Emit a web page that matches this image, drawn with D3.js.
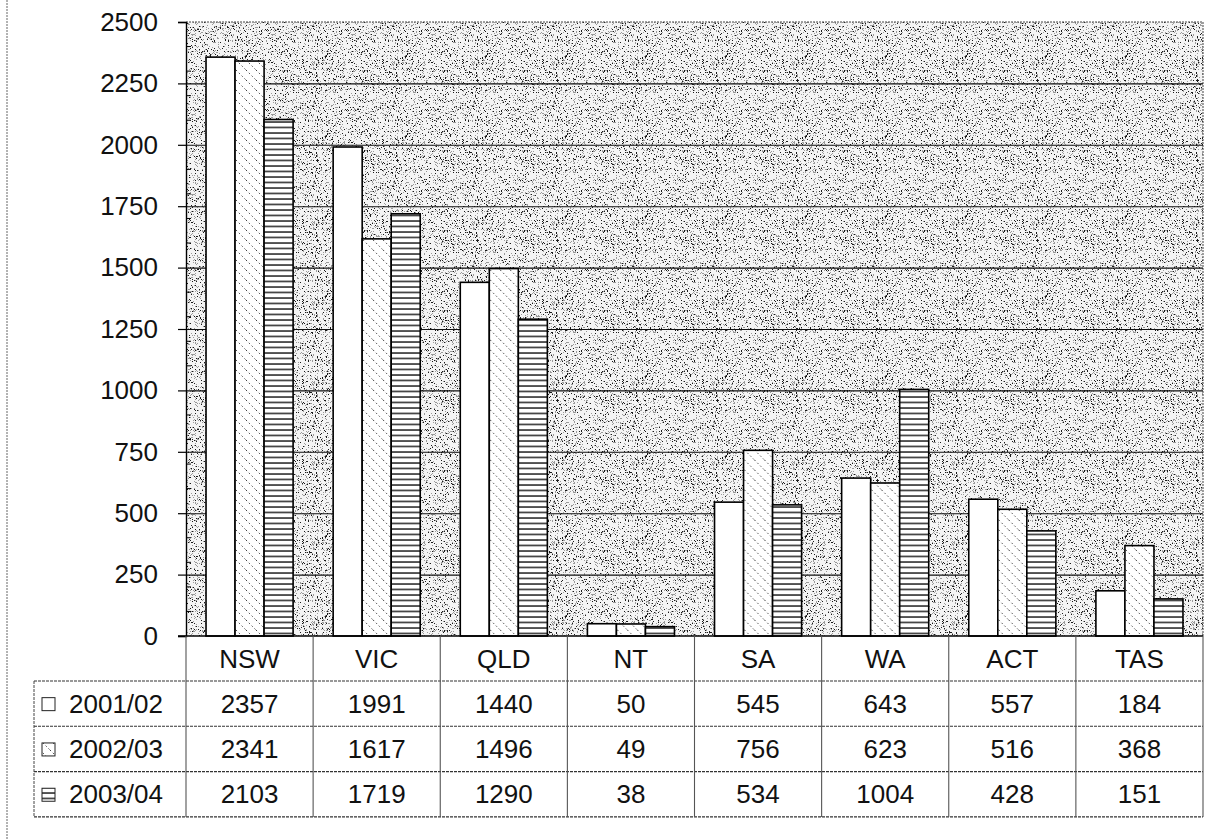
<!DOCTYPE html>
<html>
<head>
<meta charset="utf-8">
<script src="https://cdn.jsdelivr.net/npm/d3@7"></script>
<style>
  html, body { margin: 0; padding: 0; background: #fff; }
  text { font-family: "Liberation Sans", Arial, sans-serif; fill: #111; }
</style>
</head>
<body>
<svg id="chart" width="1222" height="840"></svg>
<script>
// chart data
const categories = ['NSW', 'VIC', 'QLD', 'NT', 'SA', 'WA', 'ACT', 'TAS'];
const seriesNames = ['2001/02', '2002/03', '2003/04'];
const values2001 = [2357, 1991, 1440, 50, 545, 643, 557, 184];
const values2002 = [2341, 1617, 1496, 49, 756, 623, 516, 368];
const values2003 = [2103, 1719, 1290, 38, 534, 1004, 428, 151];
const yTicks = [0, 250, 500, 750, 1000, 1250, 1500, 1750, 2000, 2250, 2500];
const yMinorTicks = [100, 200, 300, 400, 600, 700, 800, 900, 1100, 1200, 1300, 1400,
  1600, 1700, 1800, 1900, 2100, 2200, 2300, 2400];

const seriesValues = [values2001, values2002, values2003];
const patternIds = ['pat-plain', 'pat-diag', 'pat-hstripe'];

const svg = d3.select('#chart');
const plot = { left: 186, right: 1203, top: 22, bottom: 636 };
const table = { legendLeft: 34, headerBottom: 681, rowH: 45.3 };

const x0 = d3.scaleBand()
  .domain(categories)
  .range([plot.left, plot.right])
  .paddingInner(0)
  .paddingOuter(0);

const x1 = d3.scaleBand()
  .domain(seriesNames)
  .range([0, x0.bandwidth()])
  .paddingInner(0)
  .paddingOuter(0.69);

const y = d3.scaleLinear()
  .domain([0, 2500])
  .range([plot.bottom, plot.top]);

/*
 * PATTERNS
 */
const defs = svg.append('defs');

// stippled background - a fixed tile of dots (seeded so it is the same each run)
let seed = 12345;
function rnd() {
  seed = (seed * 1103515245 + 12345) % 2147483648;
  return seed / 2147483648;
}
const tile = 80;
const stipple = defs.append('pattern')
  .attr('id', 'pat-stipple')
  .attr('patternUnits', 'userSpaceOnUse')
  .attr('width', tile).attr('height', tile);
stipple.append('rect').attr('width', tile).attr('height', tile).attr('fill', '#f4f4f4');
const dots = [];
for (let i = 0; i < tile * tile * 0.16; i++) dots.push({ x: Math.floor(rnd() * tile), y: Math.floor(rnd() * tile), c: '#9a9a9a' });
for (let i = 0; i < tile * tile * 0.07; i++) dots.push({ x: Math.floor(rnd() * tile), y: Math.floor(rnd() * tile), c: '#1a1a1a' });
stipple.selectAll('rect.dot')
  .data(dots)
  .enter().append('rect')
  .attr('class', 'dot')
  .attr('x', d => d.x).attr('y', d => d.y)
  .attr('width', 1).attr('height', 1)
  .attr('fill', d => d.c);

defs.append('pattern')
  .attr('id', 'pat-plain')
  .attr('patternUnits', 'userSpaceOnUse')
  .attr('width', 4).attr('height', 4)
  .append('rect').attr('width', 4).attr('height', 4).attr('fill', '#fff');

// sparse dotted back-diagonals
const diag = defs.append('pattern')
  .attr('id', 'pat-diag')
  .attr('patternUnits', 'userSpaceOnUse')
  .attr('width', 10).attr('height', 10);
diag.append('rect').attr('width', 10).attr('height', 10).attr('fill', '#fff');
diag.append('path')
  .attr('d', 'M0,0 L10,10 M-5,5 L5,15 M5,-5 L15,5')
  .attr('stroke', '#444')
  .attr('stroke-width', 1)
  .attr('stroke-dasharray', '1.5,2.5');

// horizontal stripes
const hs = defs.append('pattern')
  .attr('id', 'pat-hstripe')
  .attr('patternUnits', 'userSpaceOnUse')
  .attr('width', 8).attr('height', 5.5);
hs.append('rect').attr('width', 8).attr('height', 5.5).attr('fill', '#fff');
hs.append('line')
  .attr('x1', 0).attr('x2', 8).attr('y1', 1).attr('y2', 1)
  .attr('stroke', '#111').attr('stroke-width', 1.4);

/*
 * FRAME
 */
svg.append('line')
  .attr('x1', 7).attr('x2', 7).attr('y1', 0).attr('y2', 840)
  .attr('stroke', '#666').attr('stroke-width', 1)
  .attr('stroke-dasharray', '2,1');

/*
 * PLOT AREA
 */
svg.append('rect')
  .attr('x', plot.left).attr('y', plot.top)
  .attr('width', plot.right - plot.left).attr('height', plot.bottom - plot.top)
  .attr('fill', 'url(#pat-stipple)');

// top and right border, dotted
svg.append('path')
  .attr('d', `M${plot.left},${plot.top} H${plot.right} V${plot.bottom}`)
  .attr('fill', 'none')
  .attr('stroke', '#444')
  .attr('stroke-dasharray', '2,1');

// gridlines
svg.append('g')
  .selectAll('line')
  .data(yTicks.filter(t => t > 0 && t < 2500))
  .enter().append('line')
  .attr('x1', plot.left).attr('x2', plot.right)
  .attr('y1', d => y(d) + 0.5).attr('y2', d => y(d) + 0.5)
  .attr('stroke', '#111')
  .attr('stroke-width', 1.1);

// bars
const groups = svg.append('g')
  .selectAll('g.category')
  .data(categories)
  .enter().append('g')
  .attr('class', 'category')
  .attr('transform', d => `translate(${x0(d)},0)`);

groups.selectAll('rect.bar')
  .data((d, i) => seriesNames.map((s, j) => ({ series: s, idx: j, value: seriesValues[j][i] })))
  .enter().append('rect')
  .attr('class', 'bar')
  .attr('x', d => x1(d.series))
  .attr('width', x1.bandwidth())
  .attr('y', d => y(d.value))
  .attr('height', d => y(0) - y(d.value))
  .attr('fill', d => `url(#${patternIds[d.idx]})`)
  .attr('stroke', '#000')
  .attr('stroke-width', 1.6);

// y axis
const yAxis = d3.axisLeft(y)
  .tickValues(yTicks)
  .tickSize(8)
  .tickPadding(20)
  .tickFormat(d3.format('d'));

const yAxisG = svg.append('g')
  .attr('transform', `translate(${plot.left},0)`)
  .call(yAxis);
yAxisG.select('.domain').attr('stroke', '#000').attr('stroke-width', 1.4);
yAxisG.selectAll('.tick line').attr('stroke', '#000').attr('stroke-width', 1.2);
yAxisG.selectAll('.tick text')
  .attr('font-size', 26)
  .attr('font-family', '"Liberation Sans", Arial, sans-serif')
  .attr('fill', '#111');

// minor ticks on the inside
svg.append('g')
  .selectAll('line')
  .data(yMinorTicks)
  .enter().append('line')
  .attr('x1', plot.left).attr('x2', plot.left + 5)
  .attr('y1', d => y(d)).attr('y2', d => y(d))
  .attr('stroke', '#000')
  .attr('stroke-width', 1);

// baseline
svg.append('line')
  .attr('x1', plot.left - 8).attr('x2', plot.right)
  .attr('y1', plot.bottom).attr('y2', plot.bottom)
  .attr('stroke', '#000').attr('stroke-width', 1.4);

/*
 * DATA TABLE
 */
const tableG = svg.append('g');
const rowTop = i => table.headerBottom + i * table.rowH;
const tableBottom = rowTop(3);

// horizontal lines
const hLines = [
  { x1: table.legendLeft, x2: plot.right, y: table.headerBottom },
  { x1: table.legendLeft, x2: plot.right, y: rowTop(1) },
  { x1: table.legendLeft, x2: plot.right, y: rowTop(2) },
  { x1: table.legendLeft, x2: plot.right, y: tableBottom }
];
tableG.selectAll('line.h')
  .data(hLines)
  .enter().append('line')
  .attr('class', 'h')
  .attr('x1', d => d.x1).attr('x2', d => d.x2)
  .attr('y1', d => d.y).attr('y2', d => d.y)
  .attr('stroke', '#333')
  .attr('stroke-width', 1.1)
  .attr('stroke-dasharray', '3,1');

// vertical lines: column dividers
const colEdges = categories.map(c => x0(c)).concat([plot.right]);
tableG.selectAll('line.v')
  .data(colEdges)
  .enter().append('line')
  .attr('class', 'v')
  .attr('x1', d => d).attr('x2', d => d)
  .attr('y1', plot.bottom).attr('y2', tableBottom)
  .attr('stroke', '#555')
  .attr('stroke-width', 1.1);

tableG.append('line')
  .attr('x1', table.legendLeft).attr('x2', table.legendLeft)
  .attr('y1', table.headerBottom).attr('y2', tableBottom)
  .attr('stroke', '#444')
  .attr('stroke-dasharray', '3,1');

// header labels
tableG.selectAll('text.cat')
  .data(categories)
  .enter().append('text')
  .attr('class', 'cat')
  .attr('x', d => x0(d) + x0.bandwidth() / 2)
  .attr('y', (plot.bottom + table.headerBottom) / 2 + 9)
  .attr('text-anchor', 'middle')
  .attr('font-size', 26)
  .text(d => d);

// value cells
seriesNames.forEach((s, j) => {
  const cy = rowTop(j) + table.rowH / 2 + 9;
  tableG.selectAll(`text.val${j}`)
    .data(seriesValues[j])
    .enter().append('text')
    .attr('class', `val${j}`)
    .attr('x', (d, i) => x0(categories[i]) + x0.bandwidth() / 2)
    .attr('y', cy)
    .attr('text-anchor', 'middle')
    .attr('font-size', 26)
    .text(d => d);

  // legend key + series name
  tableG.append('rect')
    .attr('x', 42).attr('y', rowTop(j) + table.rowH / 2 - 6)
    .attr('width', 13).attr('height', 13)
    .attr('fill', `url(#${patternIds[j]})`)
    .attr('stroke', '#222')
    .attr('stroke-width', 1);

  tableG.append('text')
    .attr('x', 69)
    .attr('y', cy)
    .attr('font-size', 26)
    .text(s);
});
</script>
</body>
</html>
